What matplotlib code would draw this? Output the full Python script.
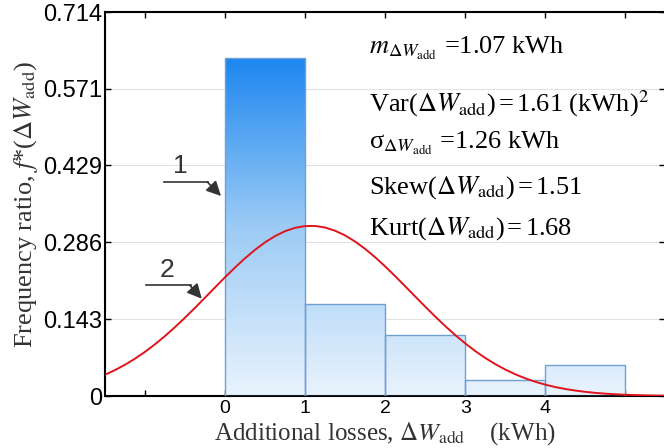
import numpy as np
import matplotlib
matplotlib.use("Agg")
import matplotlib.pyplot as plt
from matplotlib.colors import LinearSegmentedColormap

plt.rcParams['mathtext.fontset'] = 'stix'

# ---- data ----
bin_edges = [0, 1, 2, 3, 4, 5]
freq_ratio = [0.629, 0.171, 0.114, 0.029, 0.057]

# fitted curve (2)
curve_x = [-1.5, -1.375, -1.25, -1.125, -1.0, -0.875, -0.75, -0.625, -0.5,
           -0.375, -0.25, -0.125, 0.0, 0.125, 0.25, 0.375, 0.5, 0.625, 0.75,
           0.875, 1.0, 1.125, 1.25, 1.375, 1.5, 1.625, 1.75, 1.875, 2.0,
           2.125, 2.25, 2.375, 2.5, 2.625, 2.75, 2.875, 3.0, 3.125, 3.25,
           3.375, 3.5, 3.625, 3.75, 3.875, 4.0, 4.125, 4.25, 4.375, 4.5,
           4.625, 4.75, 4.875, 5.0, 5.125, 5.25, 5.375, 5.5]
curve_y = [0.0395, 0.0482, 0.0581, 0.0694, 0.0821, 0.0962, 0.1115, 0.1281,
           0.1457, 0.1640, 0.1829, 0.2019, 0.2208, 0.2390, 0.2562, 0.2719,
           0.2858, 0.2974, 0.3066, 0.3128, 0.3161, 0.3163, 0.3134, 0.3074,
           0.2987, 0.2873, 0.2737, 0.2582, 0.2411, 0.2230, 0.2042, 0.1852,
           0.1663, 0.1479, 0.1302, 0.1135, 0.0980, 0.0837, 0.0709, 0.0594,
           0.0493, 0.0405, 0.0330, 0.0266, 0.0212, 0.0167, 0.0131, 0.0102,
           0.0078, 0.0059, 0.0044, 0.0033, 0.0024, 0.0018, 0.0013, 0.0009,
           0.0007]

y_ticks = [0, 0.143, 0.286, 0.429, 0.571, 0.714]
y_tick_labels = ['0', '0.143', '0.286', '0.429', '0.571', '0.714']
x_ticks = [-1, 0, 1, 2, 3, 4, 5]
x_tick_labels = ['', '0', '1', '2', '3', '4', '']

stats_lines = [
    r'$m_{\Delta W_{\mathrm{add}}}$ =1.07 kWh',
    r'Var($\Delta W_{\mathrm{add}}$)$\,$=$\,$1.61 (kWh)$^2$',
    r'σ$_{\Delta W_{\mathrm{add}}}$ =1.26 kWh',
    r'Skew($\Delta W_{\mathrm{add}}$)$\,$=$\,$1.51',
    r'Kurt($\Delta W_{\mathrm{add}}$)$\,$=$\,$1.68',
]

fig = plt.figure(figsize=(6.64, 4.48), dpi=100)
ax = fig.add_axes([0.158, 0.116, 0.844, 0.857])

# ---- gradient bars ----
cmap = LinearSegmentedColormap.from_list('blues', ['#e9f3fd', '#9ccbf5', '#1c86f0'])
grad = np.linspace(0, 1, 256).reshape(-1, 1)
top = max(freq_ratio)
for left, right, h in zip(bin_edges[:-1], bin_edges[1:], freq_ratio):
    rect = plt.Rectangle((left, 0), right - left, h, facecolor='none',
                         edgecolor='#6f9fd3', linewidth=1.0, zorder=3)
    ax.add_patch(rect)
    im = ax.imshow(grad, extent=[left, right, 0, top], origin='lower',
                   cmap=cmap, aspect='auto', zorder=2)
    im.set_clip_path(rect)

ax.set_xlim(-1.5, 5.5)
ax.set_ylim(0, 0.714)

ax.plot(curve_x, curve_y, color='#e0141c', linewidth=1.4, zorder=4)

# ---- axes formatting ----
ax.set_yticks(y_ticks)
ax.set_yticklabels(y_tick_labels, fontfamily='Liberation Sans', fontsize=17)
ax.set_xticks(x_ticks)
ax.set_xticklabels(x_tick_labels, fontfamily='Liberation Sans', fontsize=14)
ax.tick_params(direction='in', length=4, width=1, top=True, right=True, pad=2)
ax.tick_params(axis='x', pad=3)
ax.yaxis.grid(True, color='#e2e2e2', linewidth=0.8, zorder=0)
ax.set_axisbelow(True)
for sp in ax.spines.values():
    sp.set_linewidth(1.5)

ax.set_ylabel(r'Frequency ratio, $f$*($\Delta W_{\mathrm{add}}$)',
              fontfamily='Liberation Serif', fontsize=19, color='#333333', labelpad=2)
ax.set_xlabel(r'Additional losses, $\Delta W_{\mathrm{add}}$    (kWh)',
              fontfamily='Liberation Serif', fontsize=18, color='#333333', labelpad=2)

# ---- stats text ----
stats_y = [0.637, 0.530, 0.460, 0.376, 0.301]
for txt, yy in zip(stats_lines, stats_y):
    ax.text(1.80, yy, txt, fontfamily='Liberation Serif', fontsize=19,
            va='baseline', ha='left', zorder=5)

# ---- curve markers 1 and 2 ----
ax.plot([-0.76, -0.21], [0.398, 0.398], color='#333333', lw=1.2, zorder=5)
ax.annotate('', xy=(-0.05, 0.372), xytext=(-0.22, 0.398),
            arrowprops=dict(arrowstyle='-|>', color='#333333', lw=1.2,
                            mutation_scale=22, shrinkA=0, shrinkB=0), zorder=5)
ax.text(-0.56, 0.405, '1', fontfamily='Liberation Sans', fontsize=19,
        ha='center', va='bottom', color='#333333')

ax.plot([-0.985, -0.43], [0.206, 0.206], color='#333333', lw=1.2, zorder=5)
ax.annotate('', xy=(-0.29, 0.181), xytext=(-0.44, 0.206),
            arrowprops=dict(arrowstyle='-|>', color='#333333', lw=1.2,
                            mutation_scale=22, shrinkA=0, shrinkB=0), zorder=5)
ax.text(-0.72, 0.212, '2', fontfamily='Liberation Sans', fontsize=19,
        ha='center', va='bottom', color='#333333')

fig.savefig('out.png', dpi=100)
